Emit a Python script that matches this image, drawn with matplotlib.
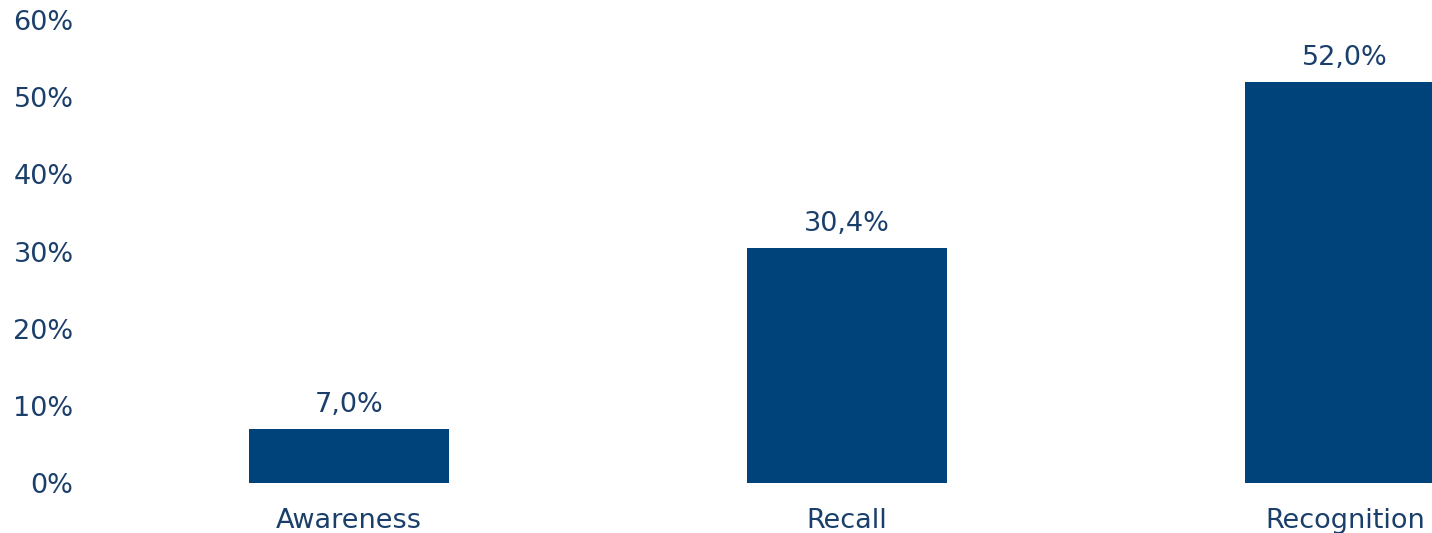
import matplotlib
matplotlib.use("Agg")
import matplotlib.pyplot as plt

# ── Data ───────────────────────────────────────────────
categories = ["Awareness", "Recall", "Recognition"]
values = [7.0, 30.4, 52.0]
yticks = [0, 10, 20, 30, 40, 50, 60]

BAR_COLOR = "#00427A"
TEXT_COLOR = "#1B3F6B"

plt.rcParams["font.family"] = ["DejaVu Sans"]

fig = plt.figure(figsize=(14.32, 5.33), dpi=100)
ax = fig.add_axes([100 / 1432, 50 / 533, 1332 / 1432, 463 / 533])

x = list(range(len(categories)))
bars = ax.bar(x, values, width=0.4, color=BAR_COLOR, clip_on=False)

for xi, v in zip(x, values):
    ax.annotate(f"{v:.1f}%".replace(".", ","), (xi, v), xytext=(0, 8),
                textcoords="offset points", ha="center", va="bottom",
                fontsize=19.5, color=TEXT_COLOR)

ax.set_xlim(-0.5, 2.175)
ax.set_ylim(0, 60)
ax.set_yticks(yticks)
ax.set_yticklabels([f"{t}%" for t in yticks])
ax.set_xticks(x)
ax.set_xticklabels(categories)

ax.tick_params(axis="y", length=0, pad=19, labelsize=19.5, labelcolor=TEXT_COLOR)
ax.tick_params(axis="x", length=0, pad=18, labelsize=19.5, labelcolor=TEXT_COLOR)
for s in ax.spines.values():
    s.set_visible(False)

fig.savefig("out.png", dpi=100)
